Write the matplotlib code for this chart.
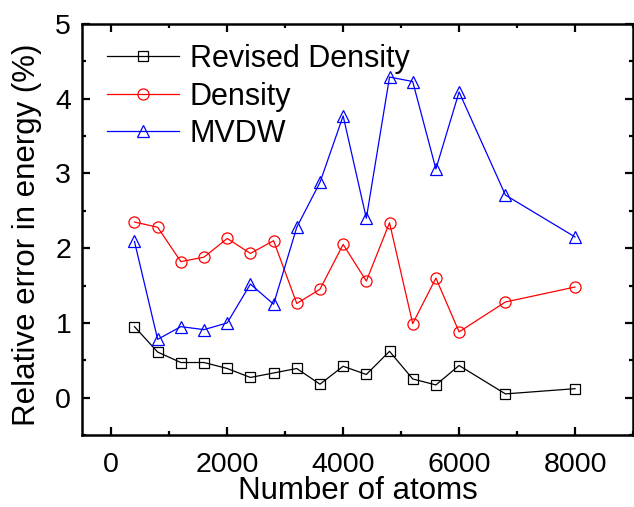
import numpy as np
import matplotlib.pyplot as plt
from matplotlib.ticker import MultipleLocator

plt.rcParams['font.family'] = ['Liberation Sans', 'DejaVu Sans']

# Number of atoms in each test system
atoms = [400, 800, 1200, 1600, 2000, 2400, 2800, 3200, 3600, 4000,
         4400, 4800, 5200, 5600, 6000, 6800, 8000]

# Relative error in energy (%) for each method
revised_density = [0.95, 0.61, 0.47, 0.47, 0.39, 0.27, 0.33, 0.39, 0.18, 0.42,
                   0.31, 0.62, 0.25, 0.17, 0.43, 0.05, 0.12]
density = [2.35, 2.28, 1.82, 1.88, 2.13, 1.93, 2.10, 1.26, 1.45, 2.05,
           1.56, 2.34, 0.99, 1.60, 0.88, 1.28, 1.48]
mvdw = [2.09, 0.78, 0.95, 0.91, 1.00, 1.52, 1.25, 2.28, 2.88, 3.77,
        2.40, 4.29, 4.23, 3.06, 4.09, 2.71, 2.15]

fig = plt.figure(figsize=(6.34, 5.07), dpi=100)
ax = fig.add_axes([0.1298, 0.142, 0.8686, 0.8107])

common = dict(lw=0.9, markeredgewidth=0.9, markerfacecolor='none')
ax.plot(atoms, revised_density, color='black', marker='s', markersize=7,
        label='Revised Density', **common)
ax.plot(atoms, density, color='red', marker='o', markersize=8,
        label='Density', **common)
ax.plot(atoms, mvdw, color='blue', marker='^', markersize=8.5,
        label='MVDW', **common)

ax.set_xlim(-500, 9000)
ax.set_ylim(-0.5, 5)
ax.xaxis.set_major_locator(MultipleLocator(2000))
ax.xaxis.set_minor_locator(MultipleLocator(1000))
ax.yaxis.set_major_locator(MultipleLocator(1))
ax.yaxis.set_minor_locator(MultipleLocator(0.5))

ax.tick_params(which='both', direction='in', top=True, right=True, width=1.6,
               labelsize=20.5)
ax.tick_params(which='major', length=6)
ax.tick_params(which='minor', length=3)
ax.tick_params(axis='x', which='major', pad=12)
ax.tick_params(axis='y', which='major', pad=8)
for s in ax.spines.values():
    s.set_linewidth(1.8)

ax.set_xlabel('Number of atoms', fontsize=22.5, labelpad=-1)
ax.set_ylabel('Relative error in energy (%)', fontsize=22.5)
ax.yaxis.set_label_coords(-0.073, 0.487)

ax.legend(loc='upper left', bbox_to_anchor=(0.0, 1.011), frameon=False,
          fontsize=22, handlelength=2.35, handletextpad=0.36,
          labelspacing=0.25, borderaxespad=0.4)

fig.savefig('out.png', dpi=100)
